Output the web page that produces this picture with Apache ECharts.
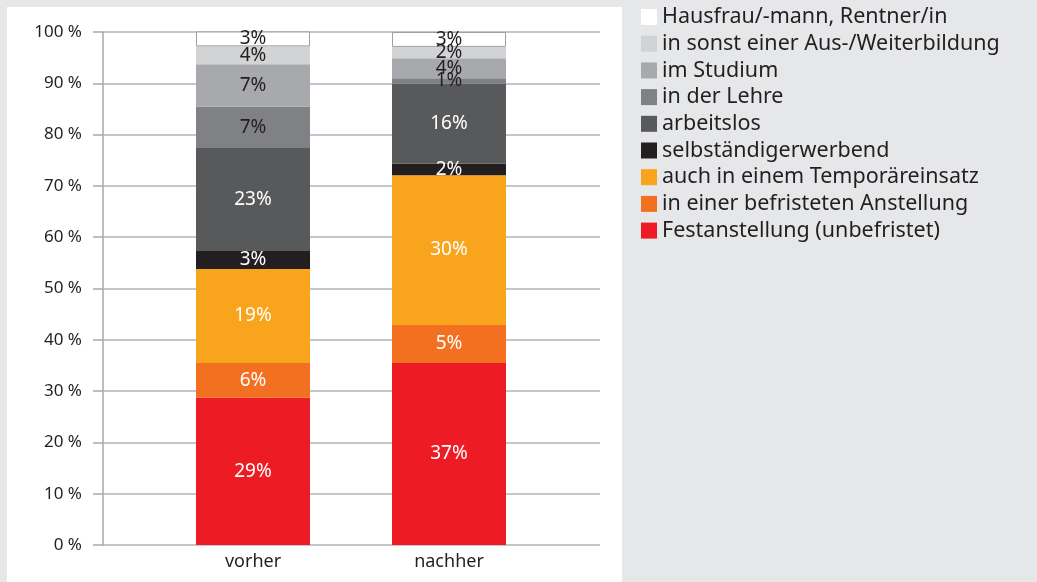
<!DOCTYPE html>
<html>
<head>
<meta charset="utf-8">
<script src="https://cdn.jsdelivr.net/npm/echarts@6/dist/echarts.min.js"></script>
<style>
  html, body { margin: 0; padding: 0; background: #e6e7e8; }
  #chart { width: 1037px; height: 582px; }
</style>
</head>
<body>
<div id="chart"></div>
<script>
// stack order, bottom to top
const seriesNames = [
    'Festanstellung (unbefristet)',
    'in einer befristeten Anstellung',
    'auch in einem Temporäreinsatz',
    'selbständigerwerbend',
    'arbeitslos',
    'in der Lehre',
    'im Studium',
    'in sonst einer Aus-/Weiterbildung',
    'Hausfrau/-mann, Rentner/in'
]
const categories = ['vorher', 'nachher']

// bar heights
const vorherValues = [28.7, 6.8, 18.3, 3.5, 20.1, 8.1, 8.2, 3.5, 2.9]
const nachherValues = [35.5, 7.4, 29.2, 2.2, 15.6, 1.1, 3.9, 2.2, 2.9]

// percentages printed on the segments
const vorherLabels = [29, 6, 19, 3, 23, 7, 7, 4, 3]
const nachherLabels = [37, 5, 30, 2, 16, 1, 4, 2, 3]

const colors = ['#ed1c24', '#f37021', '#f8a51d', '#231f20', '#58595b', '#808184', '#a7a9ac', '#d1d3d4', '#ffffff']
const labelColors = ['#fff', '#fff', '#fff', '#fff', '#fff', '#231f20', '#231f20', '#231f20', '#231f20']

const font = '"Noto Sans", "DejaVu Sans", sans-serif'
const myChart = echarts.init(document.getElementById('chart'))

const series = seriesNames.map((name, i) => ({
    name: name,
    type: 'bar',
    stack: 'total',
    xAxisIndex: 1,
    yAxisIndex: 1,
    barWidth: 114,
    itemStyle: {
        color: colors[i],
        borderColor: i === 8 ? '#9d9fa2' : colors[i],
        borderWidth: i === 8 ? 1 : 0
    },
    label: {
        show: true,
        position: 'inside',
        fontFamily: font,
        fontSize: 19,
        color: labelColors[i],
        formatter: (p) => (p.dataIndex === 0 ? vorherLabels[i] : nachherLabels[i]) + '%'
    },
    data: [vorherValues[i], nachherValues[i]]
}))

let option = {
    backgroundColor: '#e6e7e8',
    animation: false,
    graphic: [{
        type: 'rect',
        z: -10,
        shape: { x: 7, y: 7, width: 615, height: 580 },
        style: { fill: '#ffffff' }
    }],
    legend: {
        orient: 'vertical',
        left: 641,
        top: 6,
        padding: 0,
        itemWidth: 16,
        itemHeight: 16,
        itemGap: 4.7,
        icon: 'rect',
        itemStyle: { borderWidth: 0 },
        textStyle: {
            fontFamily: font,
            fontSize: 21.5,
            lineHeight: 20,
            color: '#231f20'
        },
        data: seriesNames.slice().reverse()
    },
    grid: [
        { left: 103, right: 437, top: 32, bottom: 37 },
        { left: 155, right: 490, top: 32, bottom: 37 }
    ],
    xAxis: [{
        gridIndex: 0,
        type: 'category',
        data: categories,
        show: false
    }, {
        gridIndex: 1,
        type: 'category',
        data: categories,
        axisLine: { show: false },
        axisTick: { show: false },
        axisLabel: {
            margin: 8,
            fontFamily: font,
            fontSize: 18,
            color: '#231f20'
        }
    }],
    yAxis: [{
        gridIndex: 0,
        type: 'value',
        min: 0,
        max: 100,
        interval: 10,
        axisLine: { show: true, lineStyle: { color: '#a7a9ac', width: 1.5 } },
        axisTick: { show: true, length: 10, lineStyle: { color: '#a7a9ac', width: 1.5 } },
        axisLabel: {
            margin: 21,
            fontFamily: font,
            fontSize: 17,
            color: '#231f20',
            formatter: '{value} %'
        },
        splitLine: { lineStyle: { color: '#b1b3b6', width: 1.5 } }
    }, {
        gridIndex: 1,
        type: 'value',
        min: 0,
        max: 100,
        show: false
    }],
    series: series
}

myChart.setOption(option)
</script>
</body>
</html>
